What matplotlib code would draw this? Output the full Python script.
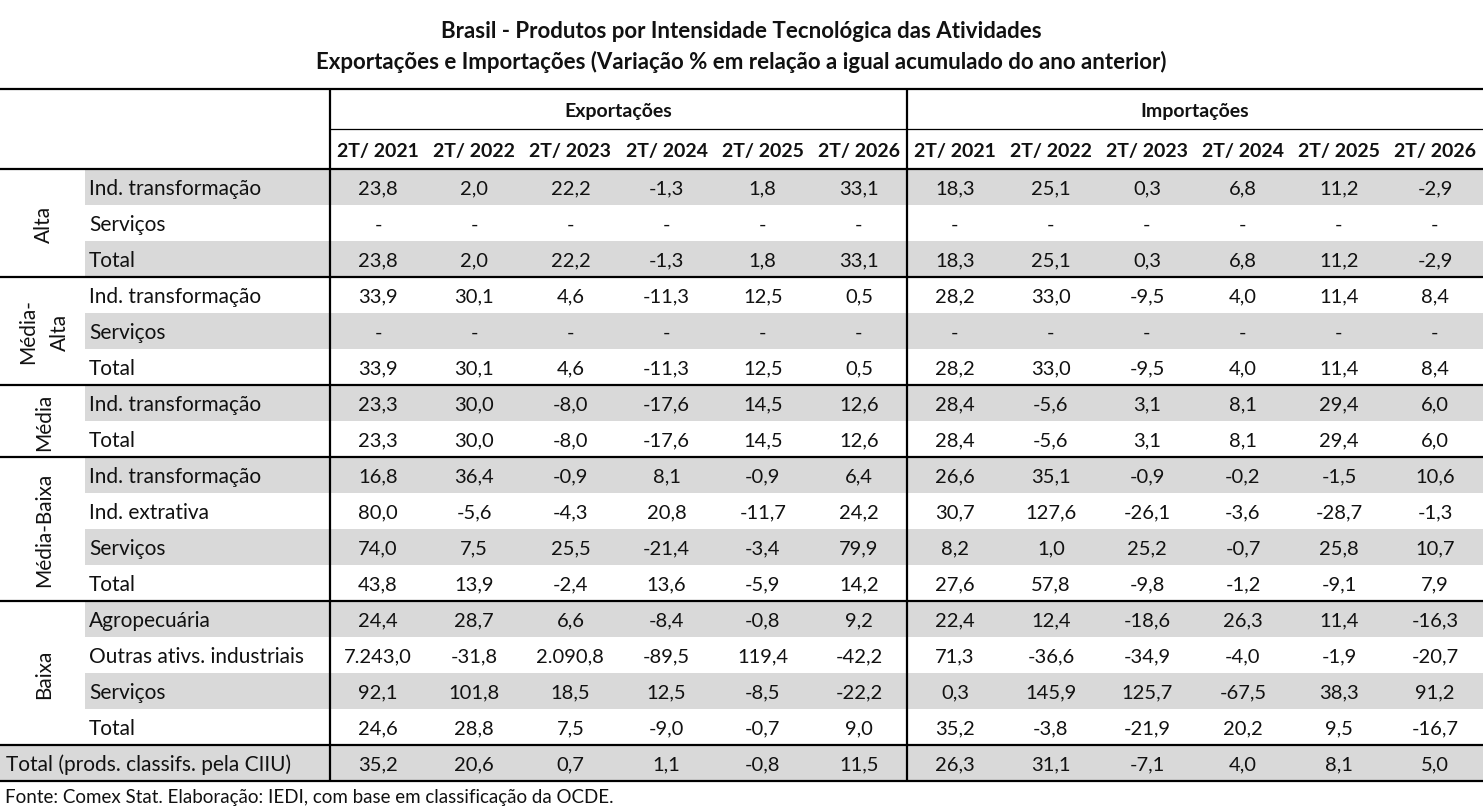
import matplotlib
matplotlib.use("Agg")
import matplotlib.pyplot as plt
from matplotlib.patches import Rectangle

plt.rcParams['font.family'] = ['Lato', 'DejaVu Sans']

title1 = "Brasil - Produtos por Intensidade Tecnológica das Atividades"
title2 = "Exportações e Importações (Variação % em relação a igual acumulado do ano anterior)"
source = "Fonte: Comex Stat. Elaboração: IEDI, com base em classificação da OCDE."

periods = ["2T/ 2021", "2T/ 2022", "2T/ 2023", "2T/ 2024", "2T/ 2025", "2T/ 2026"]
sections = ["Exportações", "Importações"]

groups = ["Alta", "Média-\nAlta", "Média", "Média-Baixa", "Baixa"]
group_rows = [
    ["Ind. transformação", "Serviços", "Total"],
    ["Ind. transformação", "Serviços", "Total"],
    ["Ind. transformação", "Total"],
    ["Ind. transformação", "Ind. extrativa", "Serviços", "Total"],
    ["Agropecuária", "Outras ativs. industriais", "Serviços", "Total"],
]
total_label = "Total (prods. classifs. pela CIIU)"

N = None
exports = [
    [23.8, 2.0, 22.2, -1.3, 1.8, 33.1],
    [N, N, N, N, N, N],
    [23.8, 2.0, 22.2, -1.3, 1.8, 33.1],
    [33.9, 30.1, 4.6, -11.3, 12.5, 0.5],
    [N, N, N, N, N, N],
    [33.9, 30.1, 4.6, -11.3, 12.5, 0.5],
    [23.3, 30.0, -8.0, -17.6, 14.5, 12.6],
    [23.3, 30.0, -8.0, -17.6, 14.5, 12.6],
    [16.8, 36.4, -0.9, 8.1, -0.9, 6.4],
    [80.0, -5.6, -4.3, 20.8, -11.7, 24.2],
    [74.0, 7.5, 25.5, -21.4, -3.4, 79.9],
    [43.8, 13.9, -2.4, 13.6, -5.9, 14.2],
    [24.4, 28.7, 6.6, -8.4, -0.8, 9.2],
    [7243.0, -31.8, 2090.8, -89.5, 119.4, -42.2],
    [92.1, 101.8, 18.5, 12.5, -8.5, -22.2],
    [24.6, 28.8, 7.5, -9.0, -0.7, 9.0],
    [35.2, 20.6, 0.7, 1.1, -0.8, 11.5],
]
imports = [
    [18.3, 25.1, 0.3, 6.8, 11.2, -2.9],
    [N, N, N, N, N, N],
    [18.3, 25.1, 0.3, 6.8, 11.2, -2.9],
    [28.2, 33.0, -9.5, 4.0, 11.4, 8.4],
    [N, N, N, N, N, N],
    [28.2, 33.0, -9.5, 4.0, 11.4, 8.4],
    [28.4, -5.6, 3.1, 8.1, 29.4, 6.0],
    [28.4, -5.6, 3.1, 8.1, 29.4, 6.0],
    [26.6, 35.1, -0.9, -0.2, -1.5, 10.6],
    [30.7, 127.6, -26.1, -3.6, -28.7, -1.3],
    [8.2, 1.0, 25.2, -0.7, 25.8, 10.7],
    [27.6, 57.8, -9.8, -1.2, -9.1, 7.9],
    [22.4, 12.4, -18.6, 26.3, 11.4, -16.3],
    [71.3, -36.6, -34.9, -4.0, -1.9, -20.7],
    [0.3, 145.9, 125.7, -67.5, 38.3, 91.2],
    [35.2, -3.8, -21.9, 20.2, 9.5, -16.7],
    [26.3, 31.1, -7.1, 4.0, 8.1, 5.0],
]


def fmt(v):
    if v is None:
        return "-"
    s = f"{v:,.1f}"
    return s.replace(",", "X").replace(".", ",").replace("X", ".")


W, H = 1483, 812
fig = plt.figure(figsize=(W / 100, H / 100), dpi=100)
ax = fig.add_axes([0, 0, 1, 1])
ax.set_xlim(0, W)
ax.set_ylim(H, 0)
ax.axis("off")

FS_LAB = 15
FS_NUM = 14.5
FS_HDR = 14
FS_TITLE = 16
TXT = "#111111"
GREY = "#d9d9d9"

# layout
top_line = 90
hdr1_bot = 130
hdr2_bot = 170
row_h = 36
x_grp = 0
x_lab = 85
x_data = 330
x_mid = 907
x_end = W
col_w = (x_mid - x_data) / 6
col_w2 = (x_end - x_mid) / 6

# titles
ax.text(W / 2, 31, title1, ha="center", va="center", fontsize=FS_TITLE, fontweight="bold", color=TXT)
ax.text(W / 2, 62, title2, ha="center", va="center", fontsize=FS_TITLE, fontweight="bold", color=TXT)

# flatten rows
row_labels = []
group_spans = []
for g, rows in zip(groups, group_rows):
    start = len(row_labels)
    row_labels.extend(rows)
    group_spans.append((g, start, len(row_labels)))
n_rows = len(row_labels) + 1  # plus total

# shading
for i in range(n_rows):
    if i % 2 == 0:
        y0 = hdr2_bot + i * row_h
        x0 = x_grp if i == n_rows - 1 else x_lab
        ax.add_patch(Rectangle((x0, y0), x_end - x0, row_h, facecolor=GREY, edgecolor="none", zorder=0))

# headers
ax.text((x_data + x_mid) / 2, (top_line + hdr1_bot) / 2 + 1, sections[0], ha="center", va="center",
        fontsize=FS_HDR, fontweight="bold", color=TXT)
ax.text((x_mid + x_end) / 2, (top_line + hdr1_bot) / 2 + 1, sections[1], ha="center", va="center",
        fontsize=FS_HDR, fontweight="bold", color=TXT)
col_centers = [x_data + col_w * (j + 0.5) for j in range(6)] + [x_mid + col_w2 * (j + 0.5) for j in range(6)]
for j, xc in enumerate(col_centers):
    ax.text(xc, (hdr1_bot + hdr2_bot) / 2 + 1, periods[j % 6], ha="center", va="center",
            fontsize=FS_HDR, fontweight="bold", color=TXT)

# data rows
all_labels = row_labels + [total_label]
for i in range(n_rows):
    yc = hdr2_bot + i * row_h + row_h / 2 + 1
    if i == n_rows - 1:
        ax.text(x_grp + 6, yc, all_labels[i], ha="left", va="center", fontsize=FS_LAB, color=TXT)
    else:
        ax.text(x_lab + 4, yc, all_labels[i], ha="left", va="center", fontsize=FS_LAB, color=TXT)
    vals = list(exports[i]) + list(imports[i])
    for xc, v in zip(col_centers, vals):
        ax.text(xc, yc, fmt(v), ha="center", va="center", fontsize=FS_NUM, color=TXT)

# group labels
for g, s, e in group_spans:
    yc = hdr2_bot + (s + e) / 2 * row_h
    ax.text(44, yc, g, ha="center", va="center", rotation=90, fontsize=FS_LAB, color=TXT,
            multialignment="center", linespacing=1.75)

# lines
thick = 1.6
ax.plot([0, W], [top_line, top_line], color="black", lw=thick, solid_capstyle="butt")
ax.plot([x_data, W], [hdr1_bot, hdr1_bot], color="black", lw=0.9)
ax.plot([0, W], [hdr2_bot, hdr2_bot], color="black", lw=thick, solid_capstyle="butt")
for g, s, e in group_spans:
    y = hdr2_bot + e * row_h
    ax.plot([0, W], [y, y], color="black", lw=thick, solid_capstyle="butt")
y_bottom = hdr2_bot + n_rows * row_h
ax.plot([0, W], [y_bottom, y_bottom], color="black", lw=thick, solid_capstyle="butt")
for x in (x_data, x_mid):
    ax.plot([x, x], [top_line, y_bottom], color="black", lw=thick, solid_capstyle="butt")

# source
ax.text(5, 798, source, ha="left", va="center", fontsize=13.5, color=TXT)

fig.savefig("out.png", dpi=100, facecolor="white")
